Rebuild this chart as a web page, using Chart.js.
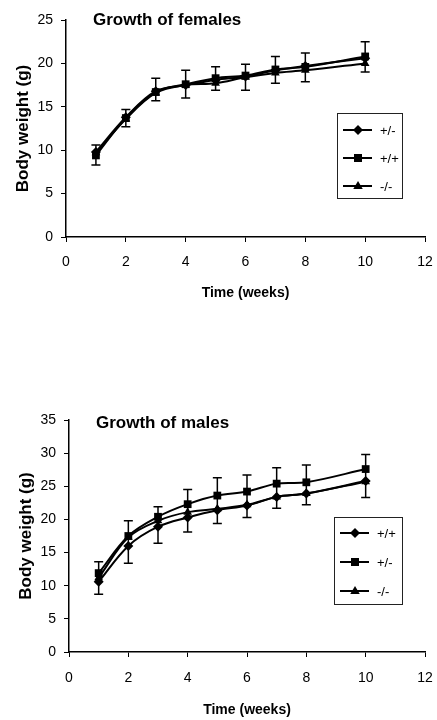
<!DOCTYPE html>
<html><head><meta charset="utf-8">
<script src="https://cdn.jsdelivr.net/npm/chart.js@4/dist/chart.umd.min.js"></script>
<style>
html,body{margin:0;padding:0;background:#fff;width:437px;height:720px;overflow:hidden}
.wrap{position:absolute;left:0;width:437px}
</style></head><body>
<div class="wrap" style="top:0;height:310px"><canvas id="c1" width="437" height="310"></canvas></div>
<div class="wrap" style="top:400px;height:320px"><canvas id="c2" width="437" height="320"></canvas></div>
<script>
// ---- data ----
const weeks = [1, 2, 3, 4, 5, 6, 7, 8, 10];

const femaleTitle = 'Growth of females';
const femaleLabels = ['+/-', '+/+', '-/-'];
const femaleHet = [9.8, 13.8, 16.8, 17.5, 18.1, 18.5, 19.2, 19.7, 20.6];   // +/-
const femaleWt  = [9.4, 13.7, 16.7, 17.6, 18.3, 18.6, 19.3, 19.6, 20.8];   // +/+
const femaleKo  = [9.7, 13.6, 16.6, 17.5, 17.7, 18.4, 18.9, 19.2, 20.0];   // -/-
const femaleErrHigh = [10.6, 14.7, 18.3, 19.2, 19.6, 19.9, 20.8, 21.2, 22.5];
const femaleErrLow  = [8.3, 12.7, 15.7, 16.0, 16.9, 16.9, 17.7, 17.9, 19.0];

const maleTitle = 'Growth of males';
const maleLabels = ['+/+', '+/-', '-/-'];
const maleWt  = [10.6, 16.0, 18.9, 20.3, 21.4, 22.1, 23.4, 23.9, 25.8];    // +/+
const maleHet = [11.9, 17.5, 20.4, 22.3, 23.6, 24.2, 25.4, 25.6, 27.6];    // +/-
const maleKo  = [11.2, 17.3, 19.8, 21.1, 21.6, 22.2, 23.4, 23.9, 25.7];    // -/-
const maleErrHigh = [13.6, 19.8, 21.9, 24.5, 26.3, 26.7, 27.8, 28.2, 29.8];
const maleErrLow  = [8.7, 13.4, 16.4, 18.1, 19.4, 20.3, 21.7, 22.2, 23.3];

const xTitle = 'Time (weeks)';
const yTitle = 'Body weight (g)';
const markerStyles = ['rectRot', 'rect', 'triangle'];

// ---- helpers ----
const FONT = "'Liberation Sans', Arial, Helvetica, sans-serif";

function drawMarker(ctx, style, x, y, r) {
  ctx.beginPath();
  if (style === 'rectRot') {
    ctx.moveTo(x, y - r); ctx.lineTo(x + r, y); ctx.lineTo(x, y + r); ctx.lineTo(x - r, y);
  } else if (style === 'rect') {
    const s = r * 0.8;
    ctx.rect(x - s, y - s, 2 * s, 2 * s);
  } else {
    ctx.moveTo(x, y - r); ctx.lineTo(x + r * 0.95, y + r * 0.6); ctx.lineTo(x - r * 0.95, y + r * 0.6);
  }
  ctx.closePath();
  ctx.fill();
}

const annotPlugin = {
  id: 'annot',
  beforeDatasetsDraw(chart, args, o) {
    const {ctx, scales: {x, y}} = chart;
    ctx.save();
    ctx.strokeStyle = '#000';
    ctx.lineWidth = 1.5;
    o.xs.forEach((xv, i) => {
      const px = x.getPixelForValue(xv);
      const pl = y.getPixelForValue(o.low[i]);
      const ph = y.getPixelForValue(o.high[i]);
      ctx.beginPath();
      ctx.moveTo(px, pl); ctx.lineTo(px, ph);
      ctx.moveTo(px - 4.5, pl); ctx.lineTo(px + 4.5, pl);
      ctx.moveTo(px - 4.5, ph); ctx.lineTo(px + 4.5, ph);
      ctx.stroke();
    });
    ctx.restore();
  },
  afterDraw(chart, args, o) {
    const {ctx, chartArea} = chart;
    ctx.save();
    ctx.fillStyle = '#000';
    ctx.font = 'bold 17px ' + FONT;
    ctx.textBaseline = 'middle';
    ctx.textAlign = 'left';
    ctx.fillText(o.title, chartArea.left + o.titleDx, chartArea.top + o.titleDy);
    const L = o.legend;
    ctx.strokeStyle = '#222';
    ctx.lineWidth = 1;
    ctx.strokeRect(L.x + 0.5, L.y + 0.5, L.w, L.h);
    ctx.font = '13px ' + FONT;
    chart.data.datasets.forEach((ds, i) => {
      const ry = L.y + L.first + i * L.step;
      ctx.strokeStyle = '#000';
      ctx.lineWidth = 2;
      ctx.beginPath();
      ctx.moveTo(L.x + 6, ry); ctx.lineTo(L.x + 35, ry);
      ctx.stroke();
      ctx.fillStyle = '#000';
      drawMarker(ctx, ds.pointStyle, L.x + 21, ry, 5);
      ctx.fillText(ds.label, L.x + 43, ry + 1);
    });
    ctx.restore();
  }
};

function makeChart(id, labels, series, yMax, errLow, errHigh, title, legendBox, yTitlePad, xTickPad, xTitlePad, yAxisWidth, xAxisHeight) {
  const datasets = series.map((vals, i) => ({
    label: labels[i],
    data: weeks.map((w, k) => ({x: w, y: vals[k]})),
    borderColor: '#000',
    backgroundColor: '#000',
    borderWidth: 2,
    pointStyle: markerStyles[i],
    pointRadius: i === 1 ? 5.5 : 5,
    pointBorderWidth: 0,
    tension: 0.35,
    fill: false
  }));
  return new Chart(document.getElementById(id), {
    type: 'line',
    data: {datasets},
    plugins: [annotPlugin],
    options: {
      responsive: false,
      animation: false,
      layout: {padding: {top: 20, right: 12, left: 0, bottom: 0}},
      plugins: {
        legend: {display: false},
        tooltip: {enabled: false},
        annot: {xs: weeks, low: errLow, high: errHigh, title: title, titleDx: 27, titleDy: title === femaleTitle ? 0 : 3, legend: legendBox}
      },
      scales: {
        x: {
          type: 'linear', min: 0, max: 12,
          afterFit: s => { s.height = xAxisHeight; s.paddingRight = 0; s.paddingLeft = 0; },
          ticks: {stepSize: 2, color: '#000', padding: xTickPad, font: {family: FONT, size: 14}, maxRotation: 0},
          grid: {drawOnChartArea: false, drawTicks: true, tickLength: 5, color: '#000', lineWidth: 1},
          border: {color: '#000', width: 1.5},
          title: {display: true, text: xTitle, color: '#000', font: {family: FONT, size: 14, weight: 'bold'}, padding: {top: 0, bottom: xTitlePad}}
        },
        y: {
          min: 0, max: yMax,
          afterFit: s => { s.width = yAxisWidth; },
          ticks: {stepSize: 5, color: '#000', padding: 8, font: {family: FONT, size: 14}},
          grid: {drawOnChartArea: false, drawTicks: true, tickLength: 5, color: '#000', lineWidth: 1},
          border: {color: '#000', width: 1.5},
          title: {display: true, text: yTitle, color: '#000', font: {family: FONT, size: 17, weight: 'bold'}, padding: {top: yTitlePad, bottom: 0}}
        }
      }
    }
  });
}

makeChart('c1', femaleLabels, [femaleHet, femaleWt, femaleKo], 25, femaleErrLow, femaleErrHigh, femaleTitle,
  {x: 337, y: 113, w: 65, h: 85, first: 17, step: 28}, 13, 12, 8, 66, 73);
makeChart('c2', maleLabels, [maleWt, maleHet, maleKo], 35, maleErrLow, maleErrHigh, maleTitle,
  {x: 334, y: 117, w: 68, h: 87, first: 16, step: 29}, 16, 13, 1, 69, 68);
</script>
</body></html>
